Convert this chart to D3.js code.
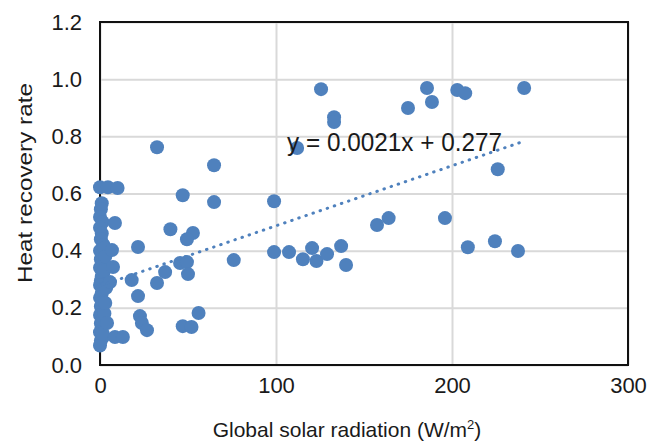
<!DOCTYPE html>
<html>
<head>
<meta charset="utf-8">
<script src="https://cdn.jsdelivr.net/npm/d3@7"></script>
<style>
  body { margin: 0; background: #fff; }
  text { font-family: "Liberation Sans", Arial, sans-serif; fill: #1a1a1a; }
</style>
</head>
<body>
<div id="chart"></div>
<script>
var svgWidth = 647;
var svgHeight = 443;

var margin = { top: 22, right: 19, bottom: 78, left: 100 };
var width = svgWidth - margin.left - margin.right;
var height = svgHeight - margin.top - margin.bottom;

// solar radiation (W/m2) and heat recovery rate
var radiation = [
  0, 1, 0.5, 0, 1.5, 0, 1, 0.5, 2, 0, 1, 0.5, 1.5, 0, 2, 1, 0.5, 0, 1.5, 1,
  0, 2, 0.5, 1, 0, 1.5, 0.5, 1, 0, 2, 0.5, 0,
  2.5, 3, 2, 3.5, 2.5, 1.5,
  4.5, 10, 8.5, 6.8, 7.4, 5.7, 3, 4, 8.5, 13,
  32.4, 40, 21.6, 37, 32.4, 18, 21.6, 22.7, 23.8, 26.7,
  47, 64.8, 64.8, 52.8, 49.4, 45.5, 49.4, 50, 56, 47, 52, 76,
  98.9, 98.9, 107.4, 112, 115.3, 120.5, 123, 125.6, 129, 133, 133, 137, 139.8,
  157.4, 164, 175, 185.8, 188.6, 196, 203, 207.5, 209, 224.4, 226, 237.5, 241
];
var recovery = [
  0.622, 0.566, 0.545, 0.518, 0.50, 0.48, 0.46, 0.44, 0.42, 0.40, 0.385, 0.37, 0.355, 0.34, 0.325, 0.31, 0.295, 0.28, 0.265, 0.25,
  0.235, 0.22, 0.205, 0.19, 0.175, 0.16, 0.145, 0.13, 0.115, 0.10, 0.085, 0.068,
  0.41, 0.38, 0.33, 0.27, 0.18, 0.11,
  0.622, 0.619, 0.497, 0.402, 0.343, 0.29, 0.217, 0.147, 0.098, 0.098,
  0.762, 0.475, 0.413, 0.325, 0.287, 0.297, 0.241, 0.171, 0.147, 0.122,
  0.594, 0.699, 0.57, 0.462, 0.44, 0.357, 0.36, 0.318, 0.182, 0.136, 0.133, 0.367,
  0.573, 0.395, 0.395, 0.759, 0.37, 0.409, 0.364, 0.965, 0.388, 0.867, 0.85, 0.416, 0.35,
  0.49, 0.514, 0.899, 0.969, 0.92, 0.514, 0.962, 0.951, 0.412, 0.433, 0.685, 0.399, 0.969
];

var xTicks = [0, 100, 200, 300];
var yTicks = [0, 0.2, 0.4, 0.6, 0.8, 1.0, 1.2];

// linear trendline y = 0.0021x + 0.277
var slope = 0.0021;
var intercept = 0.277;
var trendLabel = "y = 0.0021x + 0.277";

var data = radiation.map((r, i) => ({ x: r, y: recovery[i] }));

var svg = d3.select("#chart")
  .append("svg")
  .attr("width", svgWidth)
  .attr("height", svgHeight);

var chartGroup = svg.append("g")
  .attr("transform", `translate(${margin.left}, ${margin.top})`);

var xScale = d3.scaleLinear().domain([0, 300]).range([0, width]);
var yScale = d3.scaleLinear().domain([0, 1.2]).range([height, 0]);

// grid + tick labels
var xAxis = chartGroup.append("g")
  .attr("transform", `translate(0, ${height})`)
  .call(d3.axisBottom(xScale).tickValues(xTicks).tickSize(-height).tickPadding(12));

var yAxis = chartGroup.append("g")
  .call(d3.axisLeft(yScale).tickValues(yTicks).tickSize(-width).tickPadding(18).tickFormat(d3.format(".1f")));

[xAxis, yAxis].forEach(function(ax) {
  ax.select(".domain").remove();
  ax.selectAll(".tick line").attr("stroke", "#d9d9d9").attr("stroke-width", 2);
  ax.selectAll(".tick text").style("font-size", "22px").attr("fill", "#1a1a1a");
});

// frame
chartGroup.append("rect")
  .attr("width", width)
  .attr("height", height)
  .attr("fill", "none")
  .attr("stroke", "#111")
  .attr("stroke-width", 2);

// points
chartGroup.append("g").selectAll("circle")
  .data(data)
  .enter()
  .append("circle")
  .attr("cx", d => xScale(d.x))
  .attr("cy", d => yScale(d.y))
  .attr("r", 7)
  .attr("fill", "#4f81bd");

// trendline over the data range
var xMax = d3.max(radiation);
chartGroup.append("line")
  .attr("x1", xScale(0))
  .attr("y1", yScale(intercept))
  .attr("x2", xScale(xMax))
  .attr("y2", yScale(slope * xMax + intercept))
  .attr("stroke", "#4f81bd")
  .attr("stroke-width", 3)
  .attr("stroke-linecap", "round")
  .attr("stroke-dasharray", "0.5 7");

chartGroup.append("text")
  .attr("x", 187)
  .attr("y", 129)
  .attr("textLength", 215)
  .attr("lengthAdjust", "spacingAndGlyphs")
  .style("font-size", "25px")
  .text(trendLabel);

// axis titles
var xTitle = svg.append("text")
  .attr("x", 347)
  .attr("y", 437)
  .attr("text-anchor", "middle")
  .style("font-size", "21px");
xTitle.append("tspan").text("Global solar radiation (W/m");
xTitle.append("tspan").attr("dy", -8).style("font-size", "13px").text("2");
xTitle.append("tspan").attr("dy", 8).text(")");

svg.append("text")
  .attr("transform", "translate(32, 183) rotate(-90)")
  .attr("text-anchor", "middle")
  .attr("textLength", 200)
  .attr("lengthAdjust", "spacingAndGlyphs")
  .style("font-size", "21px")
  .text("Heat recovery rate");
</script>
</body>
</html>
